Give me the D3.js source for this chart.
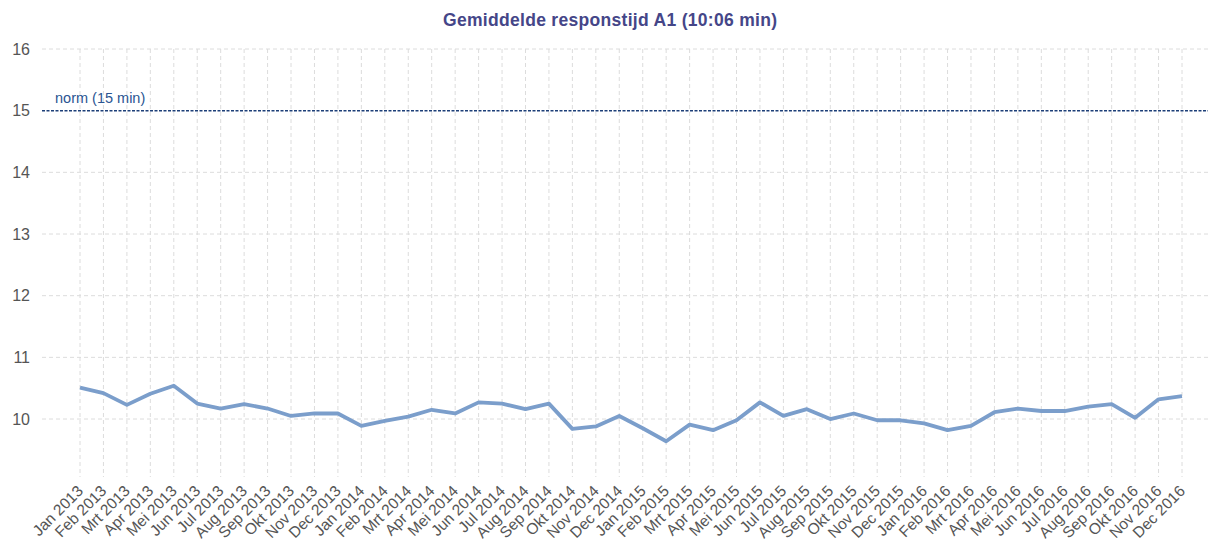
<!DOCTYPE html>
<html>
<head>
<meta charset="utf-8">
<script src="https://cdn.jsdelivr.net/npm/d3@7"></script>
<style>
  body { margin: 0; background: #fff; }
  svg { display: block; font-family: Arial, "Liberation Sans", sans-serif; }
</style>
</head>
<body>
<div id="chart"></div>
<script>
const width = 1208;
const height = 546;

// months (x axis categories)
const months = ["Jan", "Feb", "Mrt", "Apr", "Mei", "Jun", "Jul", "Aug", "Sep", "Okt", "Nov", "Dec"];
const years = [2013, 2014, 2015, 2016];
const labels = years.flatMap(y => months.map(m => `${m} ${y}`));

// average response time A1, in minutes
const values = [
  10.51, 10.42, 10.23, 10.41, 10.54, 10.25, 10.17, 10.24, 10.17, 10.05, 10.09, 10.09,
  9.89, 9.97, 10.04, 10.15, 10.09, 10.27, 10.25, 10.16, 10.25, 9.84, 9.88, 10.05,
  9.85, 9.64, 9.91, 9.82, 9.98, 10.27, 10.05, 10.16, 10.00, 10.09, 9.98, 9.98,
  9.93, 9.82, 9.89, 10.11, 10.17, 10.13, 10.13, 10.20, 10.24, 10.02, 10.32, 10.37
];

const yTicks = [10, 11, 12, 13, 14, 15, 16];
const norm = 15;
const normLabel = "norm (15 min)";
const title = "Gemiddelde responstijd A1 (10:06 min)";

const data = labels.map((l, i) => ({ label: l, value: values[i] }));

const x = d3.scalePoint()
    .domain(labels)
    .range([80, 1182]);

const y = d3.scaleLinear()
    .domain([9, 16])
    .range([480.7, 49]);

const gridLeft = 42;
const gridRight = width;

const svg = d3.select("#chart")
  .append("svg")
    .attr("width", width)
    .attr("height", height);

// title
svg.append("text")
    .attr("x", 610)
    .attr("y", 26)
    .attr("text-anchor", "middle")
    .attr("textLength", 334)
    .attr("lengthAdjust", "spacing")
    .style("font-size", "17.5px")
    .style("font-weight", "bold")
    .attr("fill", "#454688")
    .text(title);

// horizontal grid
svg.append("g")
  .selectAll("line")
  .data(yTicks.filter(t => t !== norm))
  .join("line")
    .attr("x1", gridLeft)
    .attr("x2", gridRight)
    .attr("y1", d => y(d))
    .attr("y2", d => y(d))
    .attr("stroke", "#dcdcdc")
    .attr("stroke-dasharray", "4,3");

// vertical grid
svg.append("g")
  .selectAll("line")
  .data(labels)
  .join("line")
    .attr("x1", d => x(d))
    .attr("x2", d => x(d))
    .attr("y1", y(16))
    .attr("y2", 477)
    .attr("stroke", "#dcdcdc")
    .attr("stroke-dasharray", "4,3");

// y tick labels
svg.append("g")
  .selectAll("text")
  .data(yTicks)
  .join("text")
    .attr("x", 30)
    .attr("y", d => y(d))
    .attr("dy", "0.35em")
    .attr("text-anchor", "end")
    .style("font-size", "16px")
    .attr("fill", "#555")
    .text(d => d);

// x tick labels
svg.append("g")
  .selectAll("text")
  .data(labels)
  .join("text")
    .attr("transform", d => `translate(${x(d) + 4},${492}) rotate(-45)`)
    .attr("text-anchor", "end")
    .style("font-size", "15.5px")
    .attr("fill", "#555")
    .text(d => d);

// norm line
svg.append("line")
    .attr("x1", gridLeft)
    .attr("x2", gridRight)
    .attr("y1", y(norm))
    .attr("y2", y(norm))
    .attr("stroke", "#1d3f78")
    .attr("stroke-width", 1.5)
    .attr("stroke-dasharray", "3,1.5");

svg.append("text")
    .attr("x", 55)
    .attr("y", y(norm) - 8)
    .style("font-size", "14.5px")
    .attr("fill", "#2a5592")
    .text(normLabel);

// data line
const line = d3.line()
    .x(d => x(d.label))
    .y(d => y(d.value));

svg.append("path")
    .datum(data)
    .attr("fill", "none")
    .attr("stroke", "#7b9ecb")
    .attr("stroke-width", 3.8)
    .attr("stroke-linejoin", "round")
    .attr("d", line);
</script>
</body>
</html>
